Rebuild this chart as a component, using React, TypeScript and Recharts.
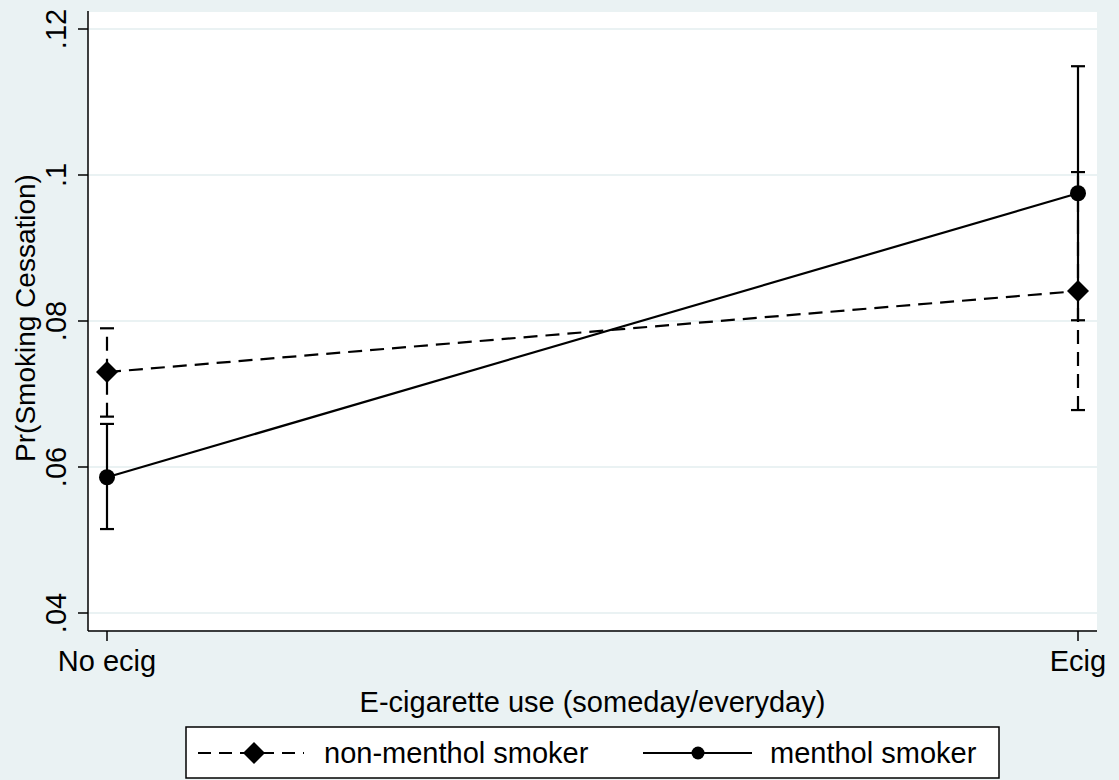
import React from "react";
import {
  ComposedChart,
  Line,
  XAxis,
  YAxis,
  CartesianGrid,
  ErrorBar,
} from "recharts";

const categories = ["No ecig", "Ecig"];
const nonMenthol = [0.073, 0.0841];
const nonMentholLow = [0.0669, 0.0678];
const nonMentholHigh = [0.079, 0.1004];
const menthol = [0.0586, 0.0975];
const mentholLow = [0.0515, 0.0801];
const mentholHigh = [0.0659, 0.1149];
const yTicks = [0.04, 0.06, 0.08, 0.1, 0.12];

const FONT = "'Liberation Sans', Arial, Helvetica, sans-serif";
const BG = "#EAF2F3";
const FS = 29;

// ErrorBar wants [below, above] offsets from the point value
const data = categories.map((name, i) => ({
  x: i,
  name,
  nonMenthol: nonMenthol[i],
  nonMentholErr: [nonMenthol[i] - nonMentholLow[i], nonMentholHigh[i] - nonMenthol[i]],
  menthol: menthol[i],
  mentholErr: [menthol[i] - mentholLow[i], mentholHigh[i] - menthol[i]],
}));

const fmtY = (v: number) => String(Number(v.toFixed(2))).replace(/^0/, "");

const Diamond = (props: any) => {
  const { cx, cy } = props;
  if (cx == null || cy == null) return null;
  const r = 11;
  return <path d={`M${cx},${cy - r}L${cx + r},${cy}L${cx},${cy + r}L${cx - r},${cy}Z`} fill="#000" />;
};

const Dot = (props: any) => {
  const { cx, cy } = props;
  if (cx == null || cy == null) return null;
  return <circle cx={cx} cy={cy} r={8} fill="#000" />;
};

const YTick = (props: any) => {
  const { x, y, payload } = props;
  const tx = x - 10;
  return (
    <text x={tx} y={y} transform={`rotate(-90, ${tx}, ${y})`} textAnchor="middle" fontSize={FS} fontFamily={FONT} fill="#000">
      {fmtY(payload.value)}
    </text>
  );
};

const XTick = (props: any) => {
  const { x, y, payload } = props;
  return (
    <text x={x} y={y + 28} textAnchor="middle" fontSize={FS} fontFamily={FONT} fill="#000">
      {categories[payload.value]}
    </text>
  );
};

const XTitle = (props: any) => {
  const { x, y, width } = props.viewBox;
  return (
    <text x={x + width / 2} y={y + 81} textAnchor="middle" fontSize={FS} fontFamily={FONT} fill="#000">
      E-cigarette use (someday/everyday)
    </text>
  );
};

const YTitle = (props: any) => {
  const { y, height } = props.viewBox;
  const cx = 35;
  const cy = y + height / 2 - 3;
  return (
    <text x={cx} y={cy} transform={`rotate(-90, ${cx}, ${cy})`} textAnchor="middle" fontSize={28} fontFamily={FONT} fill="#000">
      Pr(Smoking Cessation)
    </text>
  );
};

const ChartLegend = () => (
  <svg width={815} height={53} style={{ position: "absolute", left: 185, top: 726 }}>
    <rect x={1} y={1} width={813} height={51} fill="#fff" stroke="#000" strokeWidth={1.5} />
    <line x1={13} y1={27} x2={119} y2={27} stroke="#000" strokeWidth={2.2} strokeDasharray="13 8" />
    <Diamond cx={69} cy={27} />
    <text x={139} y={37} fontSize={FS} fontFamily={FONT} fill="#000">non-menthol smoker</text>
    <line x1={458} y1={27} x2={567} y2={27} stroke="#000" strokeWidth={2.2} />
    <circle cx={513} cy={27} r={6.5} fill="#000" />
    <text x={585} y={37} fontSize={FS} fontFamily={FONT} fill="#000">menthol smoker</text>
  </svg>
);

export default function App() {
  const pad = 19 / 971;
  return (
    <div style={{ position: "absolute", left: 0, top: 0, width: 1119, height: 780, background: BG }}>
      <ComposedChart width={1119} height={780} data={data} margin={{ top: 11, right: 22, left: 0, bottom: 0 }}>
        <CartesianGrid vertical={false} fill="#fff" stroke={BG} strokeWidth={2} />
        <XAxis
          type="number"
          dataKey="x"
          domain={[-pad, 1 + pad]}
          ticks={[0, 1]}
          allowDataOverflow
          height={149}
          tick={<XTick />}
          tickSize={10}
          axisLine={{ stroke: "#000", strokeWidth: 1.5 }}
          tickLine={{ stroke: "#000", strokeWidth: 1.5 }}
          label={{ content: <XTitle /> }}
        />
        <YAxis
          type="number"
          domain={[0.04 - 18 / 7300, 0.12 + 18 / 7300]}
          ticks={yTicks}
          allowDataOverflow
          width={88}
          tick={<YTick />}
          tickSize={10}
          axisLine={{ stroke: "#000", strokeWidth: 1.5 }}
          tickLine={{ stroke: "#000", strokeWidth: 1.5 }}
          label={{ content: <YTitle /> }}
        />
        <Line
          type="linear"
          dataKey="nonMenthol"
          stroke="#000"
          strokeWidth={2.2}
          strokeDasharray="14 8"
          dot={<Diamond />}
          activeDot={false}
          isAnimationActive={false}
        >
          <ErrorBar dataKey="nonMentholErr" direction="y" width={7} stroke="#000" strokeWidth={2.2} strokeDasharray="14 8" />
        </Line>
        <Line
          type="linear"
          dataKey="menthol"
          stroke="#000"
          strokeWidth={2.2}
          dot={<Dot />}
          activeDot={false}
          isAnimationActive={false}
        >
          <ErrorBar dataKey="mentholErr" direction="y" width={7} stroke="#000" strokeWidth={2.2} />
        </Line>
      </ComposedChart>
      <ChartLegend />
    </div>
  );
}
